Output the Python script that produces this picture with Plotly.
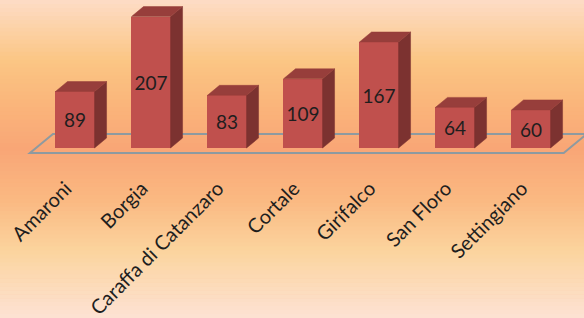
import numpy as np
import plotly.graph_objects as go

# ---- data ----
categories = ["Amaroni", "Borgia", "Caraffa di Catanzaro", "Cortale",
              "Girifalco", "San Floro", "Settingiano"]
values = [89, 207, 83, 109, 167, 64, 60]

# ---- style ----
FRONT = "#C0504D"
TOP = "#973E3B"
SIDE = "#7C3230"
FLOOR = "#8E9AA0"
FONT = "Lato"
W, H = 584, 318
PLOT_H = 172            # plot-area height in px (tick labels below it)

bar_w = 0.514          # bar width in category units
dx = 0.158             # oblique depth offset (x, category units)
dy = 15.7              # oblique depth offset (y, value units)
label_shift = -0.12    # tick-label offset relative to bar centre

x_range = [-0.987, 6.697]
y_range = [(148 - PLOT_H) / 0.635, 148 / 0.635]

n = len(categories)
xs = list(range(n))

fig = go.Figure()

# top and side faces (computed from values)
for i, v in zip(xs, values):
    l, r = i - bar_w / 2, i + bar_w / 2
    fig.add_trace(go.Scatter(
        x=[r, r + dx, r + dx, r, r], y=[0, dy, v + dy, v, 0],
        mode="lines", fill="toself", fillcolor=SIDE,
        line=dict(width=0.5, color=SIDE), hoverinfo="skip", showlegend=False))
    fig.add_trace(go.Scatter(
        x=[l, r, r + dx, l + dx, l], y=[v, v, v + dy, v + dy, v],
        mode="lines", fill="toself", fillcolor=TOP,
        line=dict(width=0.5, color=TOP), hoverinfo="skip", showlegend=False))

# front faces
fig.add_trace(go.Bar(
    x=xs, y=values, width=bar_w, marker=dict(color=FRONT, line=dict(width=0)),
    text=[str(v) for v in values], textposition="inside",
    insidetextanchor="middle", textangle=0, constraintext="none",
    textfont=dict(family=FONT, size=19, color="#1e1e1e"),
    showlegend=False, hoverinfo="skip"))

# ---- background gradient (vertical, over the whole figure) ----
stops = [(0.00, (253, 220, 198)), (0.19, (251, 198, 132)), (0.32, (250, 182, 123)),
         (0.47, (249, 166, 118)), (0.63, (250, 185, 130)), (0.79, (251, 212, 158)),
         (1.00, (253, 226, 212))]
shapes = []
nb = 80
pos = np.array([s[0] for s in stops])
cols = np.array([s[1] for s in stops], dtype=float)
def px_to_paper(p):
    return (PLOT_H - p) / PLOT_H
for k in range(nb):
    t = (k + 0.5) / nb
    c = [int(round(np.interp(t, pos, cols[:, j]))) for j in range(3)]
    p0 = k * H / nb
    p1 = (k + 1) * H / nb + 0.6
    shapes.append(dict(type="rect", xref="paper", yref="paper", x0=-0.01, x1=1.01,
                       y0=px_to_paper(p1), y1=px_to_paper(p0),
                       fillcolor=f"rgb({c[0]},{c[1]},{c[2]})",
                       line=dict(width=0), layer="below"))

# floor (oblique plane under the bars)
f_front, f_back = -7.9, 22.0
fl, fr = -0.593, (n - 1) + 0.43
fdx = 0.303
shapes.append(dict(type="path", xref="x", yref="y", layer="below",
                   path=f"M {fl},{f_front} L {fr},{f_front} L {fr+fdx},{f_back} "
                        f"L {fl+fdx},{f_back} Z",
                   line=dict(color=FLOOR, width=2), fillcolor="rgba(0,0,0,0)"))

fig.update_layout(
    width=W, height=H, autosize=False,
    margin=dict(l=0, r=0, t=0, b=H - PLOT_H, pad=0),
    paper_bgcolor="rgb(250,185,130)", plot_bgcolor="rgba(0,0,0,0)",
    xaxis=dict(range=x_range, fixedrange=True, showgrid=False, zeroline=False,
               showline=False, ticks="", tickmode="array",
               tickvals=[i + label_shift for i in xs], ticktext=categories,
               tickangle=-45, automargin=False,
               tickfont=dict(family=FONT, size=20, color="#1e1e1e")),
    yaxis=dict(range=y_range, visible=False, fixedrange=True),
    shapes=shapes, showlegend=False,
    bargap=0,
)

fig.write_html("out.html", config={"displayModeBar": False},
               post_script="document.body.style.margin='0';")
